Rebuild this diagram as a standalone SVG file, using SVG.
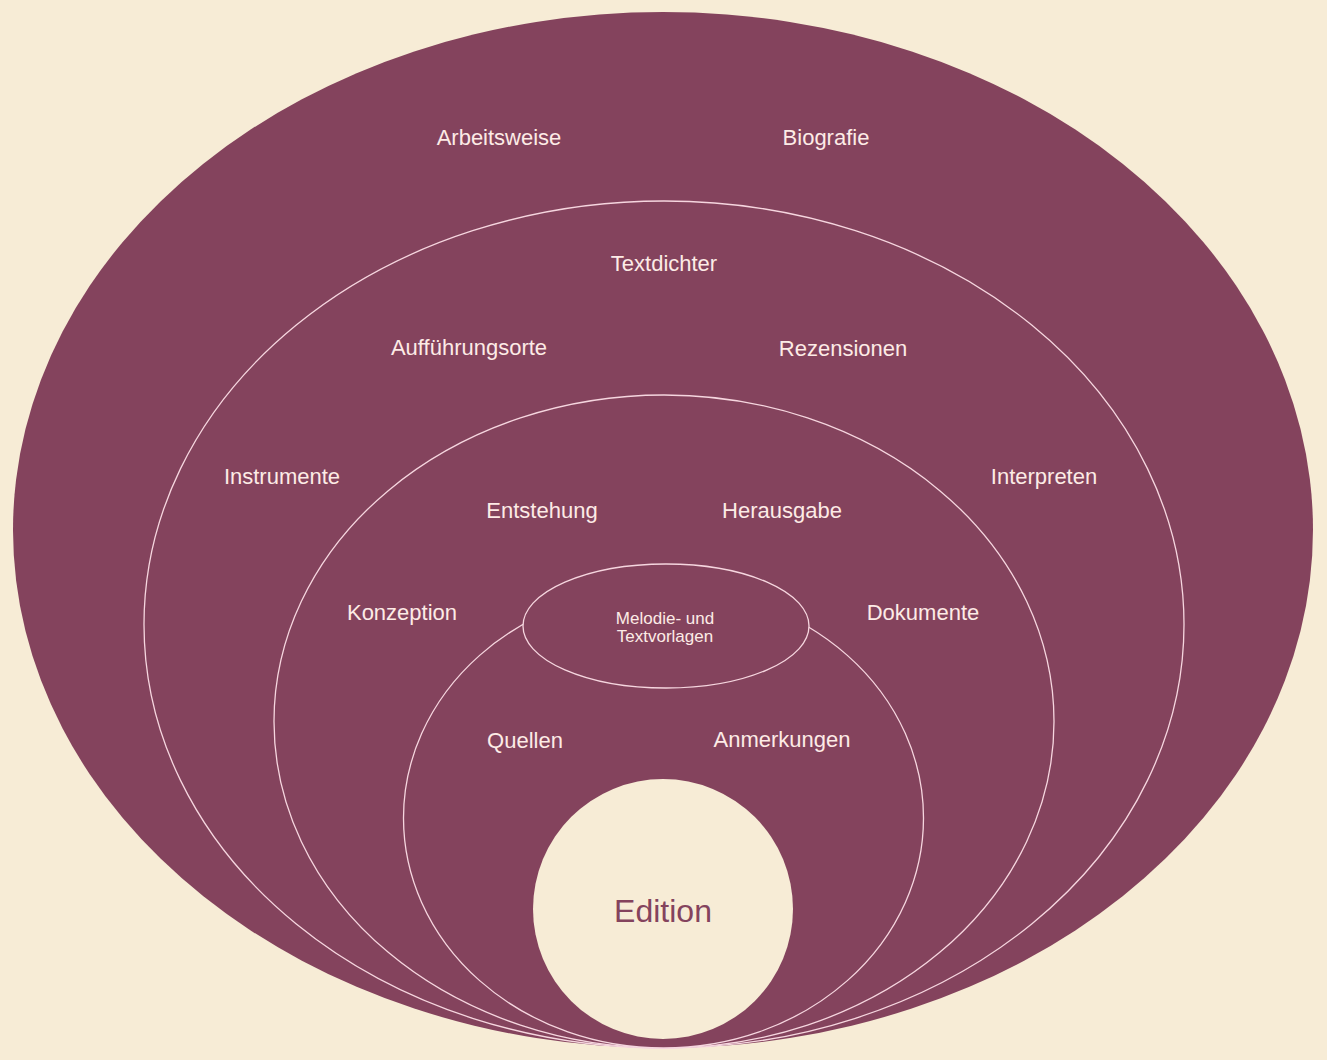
<svg xmlns="http://www.w3.org/2000/svg" width="1327" height="1060" viewBox="0 0 1327 1060">
<style>
.ring{fill:#84435d;stroke:#f6d6df;stroke-width:1.3}
.lbl{font-family:"Liberation Sans",Arial,sans-serif;font-size:22px;fill:#fdebe6;text-anchor:middle}
.small{font-family:"Liberation Sans",Arial,sans-serif;font-size:17px;fill:#fdebe6;text-anchor:middle}
.core{font-family:"Liberation Sans",Arial,sans-serif;font-size:32px;fill:#84435d;text-anchor:middle}
</style>
<rect x="0" y="0" width="1327" height="1060" fill="#f7ecd6"/>
<g id="ring-outer">
<ellipse cx="663" cy="530" rx="650" ry="518" fill="#84435d"/>
<text class="lbl" x="499" y="145">Arbeitsweise</text>
<text class="lbl" x="826" y="145">Biografie</text>
</g>
<g id="ring-2">
<ellipse class="ring" cx="664" cy="624.5" rx="520" ry="423.5"/>
<text class="lbl" x="664" y="271">Textdichter</text>
<text class="lbl" x="469" y="355">Aufführungsorte</text>
<text class="lbl" x="843" y="356">Rezensionen</text>
<text class="lbl" x="282" y="484">Instrumente</text>
<text class="lbl" x="1044" y="484">Interpreten</text>
</g>
<g id="ring-3">
<ellipse class="ring" cx="664" cy="721.5" rx="390" ry="326.5"/>
<text class="lbl" x="542" y="518">Entstehung</text>
<text class="lbl" x="782" y="518">Herausgabe</text>
<text class="lbl" x="402" y="620">Konzeption</text>
<text class="lbl" x="923" y="620">Dokumente</text>
</g>
<g id="ring-4">
<ellipse class="ring" cx="663.5" cy="818" rx="260" ry="230"/>
<text class="lbl" x="525" y="748">Quellen</text>
<text class="lbl" x="782" y="747">Anmerkungen</text>
</g>
<g id="melodie">
<ellipse class="ring" cx="666" cy="626" rx="143" ry="62"/>
<text class="small" x="665" y="624">Melodie- und</text>
<text class="small" x="665" y="642">Textvorlagen</text>
</g>
<g id="edition">
<circle cx="663" cy="909" r="130" fill="#f7ecd6"/>
<text class="core" x="663" y="922">Edition</text>
</g>
<g id="connectors"/>
</svg>
